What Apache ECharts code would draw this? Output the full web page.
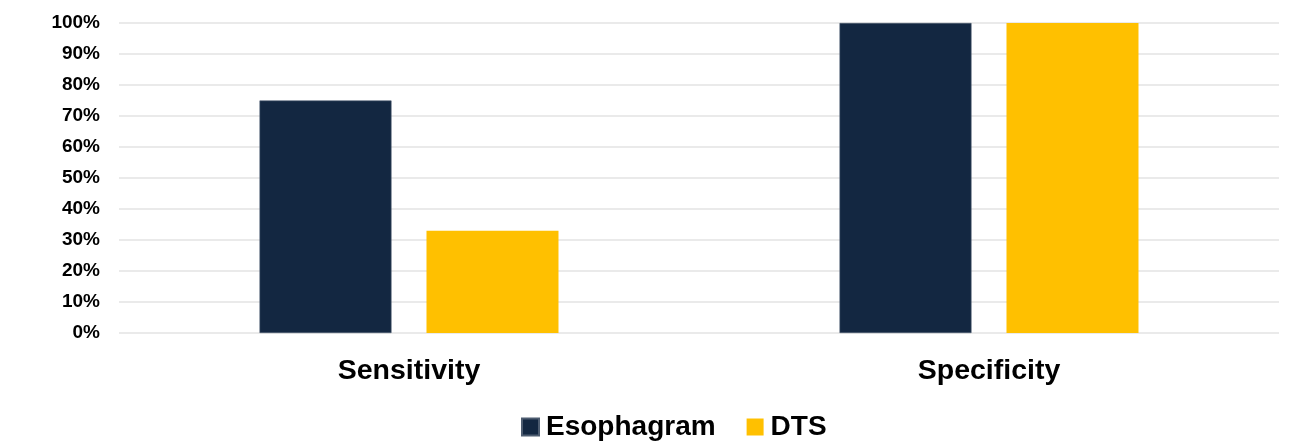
<!DOCTYPE html>
<html>
<head>
<meta charset="utf-8">
<script src="https://cdn.jsdelivr.net/npm/echarts@6/dist/echarts.min.js"></script>
<style>
  html, body { margin: 0; padding: 0; background: #fff; }
  #chart { width: 1292px; height: 443px; }
</style>
</head>
<body>
<div id="chart"></div>
<script>
// Diagnostic accuracy per method (percent)
const categories = ['Sensitivity', 'Specificity'];
const esophagram = [75, 100];
const dts = [33, 100];
const seriesNames = ['Esophagram', 'DTS'];

const FONT = '"Liberation Sans", Arial, sans-serif';
const chart = echarts.init(document.getElementById('chart'));

chart.setOption({
  animation: false,
  grid: { left: 119, right: 13, top: 23, bottom: 110 },
  legend: {
    data: seriesNames,
    top: 413,
    left: 521,
    padding: 0,
    itemWidth: 17,
    itemHeight: 17,
    itemGap: 31,
    icon: 'rect',
    textStyle: { fontFamily: FONT, fontSize: 28, fontWeight: 'bold', color: '#000', padding: [0, 0, 0, 2] }
  },
  xAxis: {
    type: 'category',
    data: categories,
    axisLine: { show: false },
    axisTick: { show: false },
    axisLabel: { fontFamily: FONT, fontSize: 28.5, fontWeight: 'bold', color: '#000', margin: 24 }
  },
  yAxis: {
    type: 'value',
    min: 0,
    max: 100,
    interval: 10,
    axisLine: { show: false },
    axisTick: { show: false },
    splitLine: { lineStyle: { color: '#e3e3e3', width: 1.5 } },
    axisLabel: {
      fontFamily: FONT, fontSize: 19, fontWeight: 'bold', color: '#000', margin: 19,
      padding: [4, 0, 0, 0],
      formatter: v => v + '%'
    }
  },
  series: [
    {
      name: seriesNames[0],
      type: 'bar',
      data: esophagram,
      barWidth: 132,
      barGap: '26.5%',
      itemStyle: { color: '#132741', borderColor: '#4d5c70', borderWidth: 0.6 }
    },
    {
      name: seriesNames[1],
      type: 'bar',
      data: dts,
      barWidth: 132,
      barGap: '26.5%',
      itemStyle: { color: '#FFC000' }
    }
  ]
});
</script>
</body>
</html>
